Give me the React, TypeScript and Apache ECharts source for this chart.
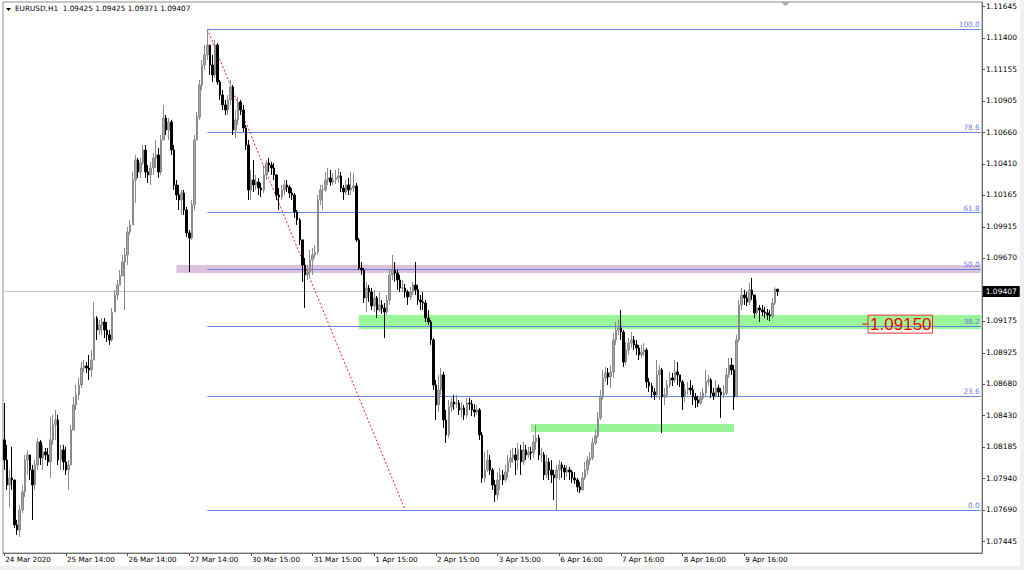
import React, { useEffect, useRef } from 'react';
import * as echarts from 'echarts';

const symbol = 'EURUSD';
const timeframe = 'H1';
const firstOpen = 1.0824;

const closes = [
  1.08082, 1.07886, 1.07941, 1.07925, 1.07572, 1.07532, 1.07689, 1.07831, 1.08082, 1.08122,
  1.08004, 1.07886, 1.08043, 1.08224, 1.08098, 1.08145, 1.08122, 1.08067, 1.0824, 1.08358,
  1.08397, 1.08082, 1.08161, 1.08067, 1.08004, 1.08043, 1.08318, 1.08515, 1.08594, 1.08672,
  1.08805, 1.08821, 1.08805, 1.0879, 1.08868, 1.09198, 1.09104, 1.09143, 1.09167, 1.09104,
  1.09065, 1.09026, 1.09245, 1.09379, 1.09458, 1.09529, 1.09638, 1.09694, 1.09874, 1.0993,
  1.10283, 1.1044, 1.10346, 1.10417, 1.10519, 1.10346, 1.10323, 1.10377, 1.10456, 1.1048,
  1.10346, 1.10598, 1.1077, 1.10676, 1.10739, 1.10519, 1.10244, 1.10165, 1.10126, 1.10181,
  1.10047, 1.09867, 1.09827, 1.10087, 1.10598, 1.10778, 1.1103, 1.11187, 1.11266, 1.11344,
  1.11187, 1.11109, 1.11344, 1.11053, 1.10951, 1.10873, 1.10833, 1.10912, 1.11014, 1.10676,
  1.10755, 1.10896, 1.10833, 1.10692, 1.10558, 1.10205, 1.10283, 1.10244, 1.10267, 1.1022,
  1.10205, 1.10323, 1.10417, 1.10401, 1.10377, 1.10323, 1.10165, 1.10149, 1.10205, 1.10244,
  1.10228, 1.10181, 1.10165, 1.10031, 1.09969, 1.09812, 1.09615, 1.09537, 1.0956, 1.09654,
  1.09694, 1.09717, 1.10126, 1.10205, 1.10205, 1.10283, 1.10299, 1.10267, 1.10283, 1.10299,
  1.10315, 1.1022, 1.10189, 1.10244, 1.10205, 1.1022, 1.10236, 1.09812, 1.09591, 1.09576,
  1.09356, 1.09434, 1.09403, 1.09293, 1.09356, 1.09261, 1.09301, 1.09277, 1.09245, 1.0934,
  1.09537, 1.09576, 1.09552, 1.09497, 1.09434, 1.09434, 1.09403, 1.09364, 1.09403, 1.09458,
  1.09419, 1.0934, 1.09324, 1.09316, 1.09198, 1.09167, 1.09026, 1.08672, 1.08515, 1.08633,
  1.08751, 1.08397, 1.08279, 1.08499, 1.08538, 1.08523, 1.0853, 1.08475, 1.08491, 1.08436,
  1.0853, 1.08523, 1.08475, 1.0846, 1.08475, 1.08279, 1.07941, 1.08004, 1.08082, 1.08004,
  1.07886, 1.07808, 1.07925, 1.07965, 1.07925, 1.07988, 1.08067, 1.08098, 1.08122, 1.08082,
  1.08161, 1.08067, 1.08161, 1.08122, 1.08145, 1.08137, 1.08224, 1.08255, 1.08122, 1.08122,
  1.07965, 1.08067, 1.08004, 1.07965, 1.07941, 1.08004, 1.08043, 1.0802, 1.07988, 1.08004,
  1.07988, 1.07941, 1.07925, 1.0787, 1.07847, 1.07941, 1.08004, 1.08082, 1.08098, 1.08216,
  1.08271, 1.08413, 1.08578, 1.08727, 1.08766, 1.08735, 1.08774, 1.09026, 1.09104, 1.0912,
  1.09088, 1.08852, 1.08947, 1.09002, 1.09026, 1.08987, 1.08963, 1.08908, 1.08931, 1.08947,
  1.08696, 1.08664, 1.08617, 1.08594, 1.08751, 1.0879, 1.08578, 1.08594, 1.08672, 1.08727,
  1.08711, 1.08774, 1.08751, 1.08696, 1.08578, 1.08633, 1.08648, 1.08633, 1.08578, 1.08554,
  1.0853, 1.0857, 1.08609, 1.08696, 1.08711, 1.08609, 1.08586, 1.08648, 1.08617, 1.08594,
  1.08609, 1.08751, 1.08829, 1.0879, 1.08578, 1.09026, 1.09301, 1.09379, 1.09356, 1.09324,
  1.09419, 1.09379, 1.09238, 1.09277, 1.09261, 1.09245, 1.09238, 1.09222, 1.09214, 1.09316,
  1.09425, 1.09407,
];

const highs = [
  1.0853, 1.08201, 1.08004, 1.08185, 1.07925, 1.07611, 1.07729, 1.07886, 1.08122, 1.08161,
  1.08122, 1.08043, 1.08082, 1.08255, 1.0824, 1.08201, 1.08177, 1.08177, 1.08421, 1.08436,
  1.08475, 1.08436, 1.08201, 1.08201, 1.08185, 1.08082, 1.08358, 1.08578, 1.08672, 1.08727,
  1.08852, 1.08868, 1.08852, 1.08908, 1.08947, 1.09324, 1.09214, 1.09183, 1.09198, 1.09198,
  1.09167, 1.09104, 1.09277, 1.09419, 1.09497, 1.09576, 1.09694, 1.09749, 1.09914, 1.09969,
  1.10346, 1.1048, 1.10456, 1.10456, 1.10558, 1.10558, 1.10401, 1.10425, 1.10495, 1.10598,
  1.10535, 1.10637, 1.10873, 1.10794, 1.1077, 1.10755, 1.10558, 1.10283, 1.10244, 1.10205,
  1.10205, 1.10071, 1.0989, 1.10126, 1.10637, 1.10817, 1.11069, 1.11226, 1.11344, 1.1147,
  1.11344, 1.11266, 1.11384, 1.1136, 1.11069, 1.10991, 1.10912, 1.10951, 1.11069, 1.1103,
  1.10833, 1.10936, 1.10912, 1.10873, 1.10716, 1.10598, 1.10362, 1.1044, 1.10323, 1.10299,
  1.1026, 1.10401, 1.1044, 1.10456, 1.10425, 1.10417, 1.10323, 1.1022, 1.10244, 1.10283,
  1.10283, 1.10244, 1.1022, 1.10181, 1.10047, 1.09984, 1.09812, 1.0967, 1.09615, 1.09733,
  1.09749, 1.09772, 1.10165, 1.10244, 1.10244, 1.10346, 1.10377, 1.10362, 1.10338, 1.10362,
  1.10377, 1.10346, 1.10244, 1.10283, 1.10299, 1.10346, 1.10338, 1.1026, 1.09827, 1.09638,
  1.09591, 1.09482, 1.09458, 1.09434, 1.09419, 1.09371, 1.09403, 1.0934, 1.09316, 1.09379,
  1.09576, 1.09694, 1.09638, 1.09576, 1.09537, 1.09497, 1.09466, 1.09419, 1.09442, 1.09482,
  1.09638, 1.09458, 1.09379, 1.09403, 1.0934, 1.09261, 1.09183, 1.09041, 1.08711, 1.08751,
  1.08805, 1.08774, 1.08475, 1.08554, 1.0857, 1.08594, 1.08594, 1.08554, 1.08538, 1.08515,
  1.0857, 1.0857, 1.08554, 1.08523, 1.08515, 1.08491, 1.08303, 1.08145, 1.08161, 1.08122,
  1.0802, 1.07925, 1.07988, 1.0802, 1.08004, 1.08043, 1.08122, 1.08161, 1.08177, 1.08177,
  1.08216, 1.08201, 1.08224, 1.08201, 1.08185, 1.08185, 1.08279, 1.08358, 1.08279, 1.08177,
  1.08145, 1.08122, 1.08098, 1.08082, 1.08004, 1.08043, 1.08082, 1.08067, 1.08043, 1.08043,
  1.08028, 1.08004, 1.07988, 1.07941, 1.0791, 1.07988, 1.08067, 1.08114, 1.08145, 1.08255,
  1.08318, 1.0846, 1.08633, 1.0879, 1.08813, 1.08805, 1.08829, 1.09081, 1.09167, 1.09183,
  1.09261, 1.09104, 1.0901, 1.09041, 1.09088, 1.09057, 1.09026, 1.08987, 1.08987, 1.09002,
  1.08963, 1.08727, 1.08688, 1.08648, 1.08868, 1.08829, 1.08805, 1.08648, 1.08711, 1.08774,
  1.08766, 1.08868, 1.08852, 1.08751, 1.08711, 1.0868, 1.08696, 1.08711, 1.08672, 1.08609,
  1.08586, 1.08617, 1.08648, 1.0879, 1.08751, 1.08727, 1.08648, 1.08711, 1.08672, 1.08648,
  1.08672, 1.08805, 1.08884, 1.08884, 1.08829, 1.09065, 1.0934, 1.09434, 1.09419, 1.09403,
  1.09474, 1.09513, 1.09379, 1.0934, 1.09301, 1.09301, 1.09285, 1.09269, 1.09261, 1.09356,
  1.0944, 1.09425,
];

const lows = [
  1.08004, 1.07847, 1.07713, 1.07847, 1.07548, 1.07493, 1.07477, 1.07665, 1.07792, 1.07965,
  1.07925, 1.07611, 1.07847, 1.08004, 1.08043, 1.08004, 1.08082, 1.08035, 1.07941, 1.08201,
  1.0824, 1.08043, 1.08004, 1.08004, 1.07965, 1.07847, 1.08043, 1.08318, 1.08475, 1.08554,
  1.08648, 1.08774, 1.08766, 1.08711, 1.08735, 1.08868, 1.09026, 1.09065, 1.09065, 1.09041,
  1.0901, 1.08987, 1.0901, 1.09245, 1.0934, 1.09458, 1.09537, 1.09261, 1.09615, 1.09851,
  1.0993, 1.10102, 1.10299, 1.10299, 1.10401, 1.10299, 1.1026, 1.10244, 1.10323, 1.10377,
  1.10299, 1.10323, 1.10598, 1.10637, 1.10598, 1.1048, 1.10205, 1.10126, 1.10047, 1.10008,
  1.10008, 1.09835, 1.0956, 1.09812, 1.10047, 1.10598, 1.10755, 1.10991, 1.11148, 1.11226,
  1.11109, 1.11053, 1.11085, 1.1103, 1.10912, 1.10833, 1.10794, 1.10794, 1.10873, 1.10637,
  1.10613, 1.10716, 1.10794, 1.1066, 1.10519, 1.10126, 1.10126, 1.10189, 1.10205, 1.10165,
  1.10149, 1.10181, 1.10283, 1.10346, 1.10323, 1.10283, 1.10126, 1.10047, 1.10126, 1.10165,
  1.10189, 1.10141, 1.10126, 1.09984, 1.0993, 1.09772, 1.09481, 1.09277, 1.09497, 1.09513,
  1.09537, 1.0967, 1.09694, 1.10087, 1.10047, 1.10189, 1.10244, 1.10236, 1.10244, 1.10252,
  1.1026, 1.10189, 1.10126, 1.10165, 1.10165, 1.10165, 1.10189, 1.09796, 1.09576, 1.09537,
  1.09316, 1.09245, 1.09324, 1.09261, 1.09245, 1.09198, 1.09245, 1.0923, 1.09041, 1.09222,
  1.09301, 1.09497, 1.09482, 1.09419, 1.09403, 1.09403, 1.09356, 1.09301, 1.0934, 1.09379,
  1.09379, 1.09301, 1.09261, 1.09261, 1.09167, 1.09143, 1.08987, 1.08633, 1.08397, 1.0846,
  1.08594, 1.08334, 1.08216, 1.08255, 1.0846, 1.08475, 1.08491, 1.08436, 1.08413, 1.08397,
  1.08413, 1.08475, 1.08428, 1.08421, 1.08436, 1.0824, 1.07902, 1.0791, 1.07988, 1.07965,
  1.07847, 1.07752, 1.07768, 1.07847, 1.07886, 1.0791, 1.07941, 1.0802, 1.08059, 1.07965,
  1.08004, 1.07965, 1.08043, 1.08082, 1.08098, 1.08082, 1.08098, 1.08161, 1.08082, 1.08067,
  1.07925, 1.07941, 1.07925, 1.07902, 1.07768, 1.07689, 1.07925, 1.07941, 1.07925, 1.07949,
  1.07925, 1.07902, 1.07894, 1.07831, 1.07823, 1.07847, 1.07925, 1.07965, 1.08043, 1.08082,
  1.08201, 1.08255, 1.08397, 1.08554, 1.08696, 1.08672, 1.08648, 1.08727, 1.08987, 1.09065,
  1.09026, 1.08813, 1.08829, 1.08908, 1.08963, 1.08947, 1.08908, 1.08868, 1.08884, 1.089,
  1.08648, 1.08617, 1.0857, 1.08554, 1.0857, 1.08554, 1.08295, 1.08515, 1.0857, 1.08648,
  1.08664, 1.08688, 1.08672, 1.08656, 1.08475, 1.08538, 1.08594, 1.08594, 1.08515, 1.08491,
  1.08499, 1.08515, 1.08554, 1.08578, 1.08664, 1.0857, 1.08554, 1.0857, 1.08578, 1.08413,
  1.0857, 1.08594, 1.08727, 1.08751, 1.08475, 1.08578, 1.0901, 1.09261, 1.09301, 1.09293,
  1.09301, 1.0934, 1.09198, 1.09222, 1.09167, 1.09214, 1.09198, 1.09183, 1.09175, 1.09198,
  1.09301, 1.09371,
];

const dateLabels = [
  '24 Mar 2020', '25 Mar 14:00', '26 Mar 14:00', '27 Mar 14:00', '30 Mar 15:00', '31 Mar 15:00',
  '1 Apr 15:00', '2 Apr 15:00', '3 Apr 15:00', '6 Apr 16:00', '7 Apr 16:00', '8 Apr 16:00', '9 Apr 16:00',
];
const barsPerLabel = 24;
const totalSlots = 381;

const priceTicks = [
  1.11645, 1.114, 1.11155, 1.10905, 1.1066, 1.1041, 1.10165, 1.09915, 1.0967,
  1.09175, 1.08925, 1.0868, 1.0843, 1.08185, 1.0794, 1.0769, 1.07445,
];
const priceMin = 1.07351;
const priceMax = 1.11682;

const fibHigh = 1.1147;
const fibLow = 1.0769;
const fibStartBar = 79;
const trendEndBar = 156;
const fibLevels = [100.0, 78.6, 61.8, 50.0, 38.2, 23.6, 0.0];

const bandPurple = { fromBar: 67, top: 1.09615, bottom: 1.09552 };
const bandGreen1 = { fromBar: 138, top: 1.09222, bottom: 1.09112 };
const bandGreen2 = { fromBar: 205, toBar: 284, top: 1.08365, bottom: 1.08303 };
const labelPrice = 1.0915;
const labelBar = 335;

const FONT = '"DejaVu Sans", Verdana, sans-serif';

export default function App() {
  const ref = useRef<HTMLDivElement>(null);

  useEffect(() => {
    document.body.style.margin = '0';
    if (!ref.current) return;
    const chart = echarts.init(ref.current, undefined, { renderer: 'svg' });

    const candles = closes.map((c, i) => {
      const o = i === 0 ? firstOpen : closes[i - 1];
      const h = Math.max(highs[i], o, c);
      const l = Math.min(lows[i], o, c);
      return [o, c, l, h];
    });
    const last = candles[candles.length - 1];
    const fmt = (v: number) => v.toFixed(5);

    const categories = Array.from({ length: totalSlots }, (_, i) =>
      i % barsPerLabel === 0 && i / barsPerLabel < dateLabels.length ? dateLabels[i / barsPerLabel] : ''
    );
    const lastSlot = totalSlots - 1;

    const fibLines = fibLevels.map((lv) => {
      const p = fibLow + (fibHigh - fibLow) * lv / 100;
      return [
        {
          coord: [fibStartBar, p],
          label: {
            show: true,
            position: 'insideEndTop',
            formatter: lv.toFixed(1),
            color: '#6880e4',
            fontSize: 7.3,
            fontFamily: FONT,
            distance: [1, 1],
          },
        },
        { coord: [lastSlot, p] },
      ];
    });

    const option: any = {
      animation: false,
      backgroundColor: '#ffffff',
      grid: {
        left: 3,
        top: 2,
        right: 42,
        bottom: 17,
        show: true,
        borderColor: '#8c8c8c',
        borderWidth: 1,
        backgroundColor: '#ffffff',
      },
      xAxis: {
        type: 'category',
        data: categories,
        boundaryGap: true,
        axisLine: { show: true, lineStyle: { color: '#707070' } },
        axisTick: {
          show: true,
          alignWithLabel: true,
          interval: (i: number) => i % barsPerLabel === 0 && i / barsPerLabel < dateLabels.length,
          length: 3,
          lineStyle: { color: '#505050' },
        },
        axisLabel: {
          interval: (i: number) => i % barsPerLabel === 0 && i / barsPerLabel < dateLabels.length,
          align: 'left',
          fontSize: 7.2,
          fontFamily: FONT,
          color: '#000',
          margin: 3,
          padding: [0, 0, 0, 1],
        },
        splitLine: { show: false },
      },
      yAxis: {
        type: 'value',
        position: 'right',
        min: priceMin,
        max: priceMax,
        scale: true,
        splitLine: { show: false },
        axisLine: { show: true, lineStyle: { color: '#707070' } },
        axisTick: { show: true, customValues: priceTicks, length: 3, lineStyle: { color: '#505050' } },
        axisLabel: {
          customValues: priceTicks,
          formatter: (v: number) => fmt(v),
          fontSize: 7.5,
          fontFamily: FONT,
          color: '#000',
          margin: 4,
        },
      },
      series: [
        {
          name: 'objects',
          type: 'line',
          data: [],
          z: 1,
          silent: true,
          markArea: {
            silent: true,
            z: 1,
            data: [
              [
                { xAxis: bandPurple.fromBar, yAxis: bandPurple.top, itemStyle: { color: '#dcc2dc' } },
                { xAxis: lastSlot, yAxis: bandPurple.bottom },
              ],
              [
                { xAxis: bandGreen1.fromBar, yAxis: bandGreen1.top, itemStyle: { color: '#98f598' } },
                { xAxis: lastSlot, yAxis: bandGreen1.bottom },
              ],
              [
                { xAxis: bandGreen2.fromBar, yAxis: bandGreen2.top, itemStyle: { color: '#98f598' } },
                { xAxis: bandGreen2.toBar, yAxis: bandGreen2.bottom },
              ],
            ],
          },
        },
        {
          name: 'fibo',
          type: 'line',
          data: [],
          z: 1.5,
          silent: true,
          markLine: {
            silent: true,
            z: 1.5,
            symbol: ['none', 'none'],
            lineStyle: { color: '#6a82e2', width: 1, type: 'solid' },
            label: { show: false },
            data: [
              ...fibLines,
              [
                {
                  coord: [0, last[1]],
                  lineStyle: { color: '#c4c4c4', width: 1, type: 'solid' },
                  label: {
                    show: true,
                    position: 'end',
                    distance: 2,
                    formatter: fmt(last[1]),
                    color: '#ffffff',
                    backgroundColor: '#000000',
                    padding: [2, 3, 1, 3],
                    fontSize: 7.5,
                    fontFamily: FONT,
                  },
                },
                { coord: [lastSlot, last[1]] },
              ],
              [
                {
                  coord: [fibStartBar, fibHigh],
                  lineStyle: { color: '#ff2020', width: 1, type: [2, 2] },
                  label: { show: false },
                },
                { coord: [trendEndBar, fibLow] },
              ],
            ],
          },
        },
        {
          name: symbol,
          type: 'candlestick',
          data: candles,
          z: 3,
          barWidth: 2,
          itemStyle: {
            color: '#a6a6a6',
            color0: '#000000',
            borderColor: '#8a8a8a',
            borderColor0: '#000000',
            borderWidth: 1,
          },
          markPoint: {
            silent: true,
            z: 6,
            data: [
              {
                coord: [labelBar, labelPrice],
                symbol: 'rect',
                symbolSize: [6, 1],
                itemStyle: { color: '#ff0000' },
                label: {
                  show: true,
                  position: 'right',
                  distance: 0,
                  formatter: labelPrice.toFixed(5),
                  color: '#ff0000',
                  fontSize: 17,
                  fontFamily: '"Liberation Sans", Arial, sans-serif',
                  borderColor: '#ff3030',
                  borderWidth: 1,
                  padding: [1, 1, 0, 2],
                },
              },
            ],
          },
        },
      ],
      graphic: [
        { type: 'rect', shape: { x: 0, y: 566, width: 1024, height: 4 }, style: { fill: '#f0f0f0' }, silent: true },
        { type: 'rect', shape: { x: 1020, y: 0, width: 4, height: 570 }, style: { fill: '#f0f0f0' }, silent: true },
        { type: 'polygon', shape: { points: [[6, 8], [11, 8], [8.5, 11]] }, style: { fill: '#000' }, silent: true },
        {
          type: 'text',
          x: 15,
          y: 5,
          style: {
            text: `${symbol},${timeframe}  ${fmt(last[0])} ${fmt(last[3])} ${fmt(last[2])} ${fmt(last[1])}`,
            fill: '#000',
            font: `7.3px ${FONT}`,
          },
          silent: true,
        },
        { type: 'polygon', shape: { points: [[781, 2], [790, 2], [785.5, 6]] }, style: { fill: '#a8a8a8' }, silent: true },
      ],
    };

    chart.setOption(option);
    return () => chart.dispose();
  }, []);

  return <div ref={ref} style={{ width: 1024, height: 570 }} />;
}
